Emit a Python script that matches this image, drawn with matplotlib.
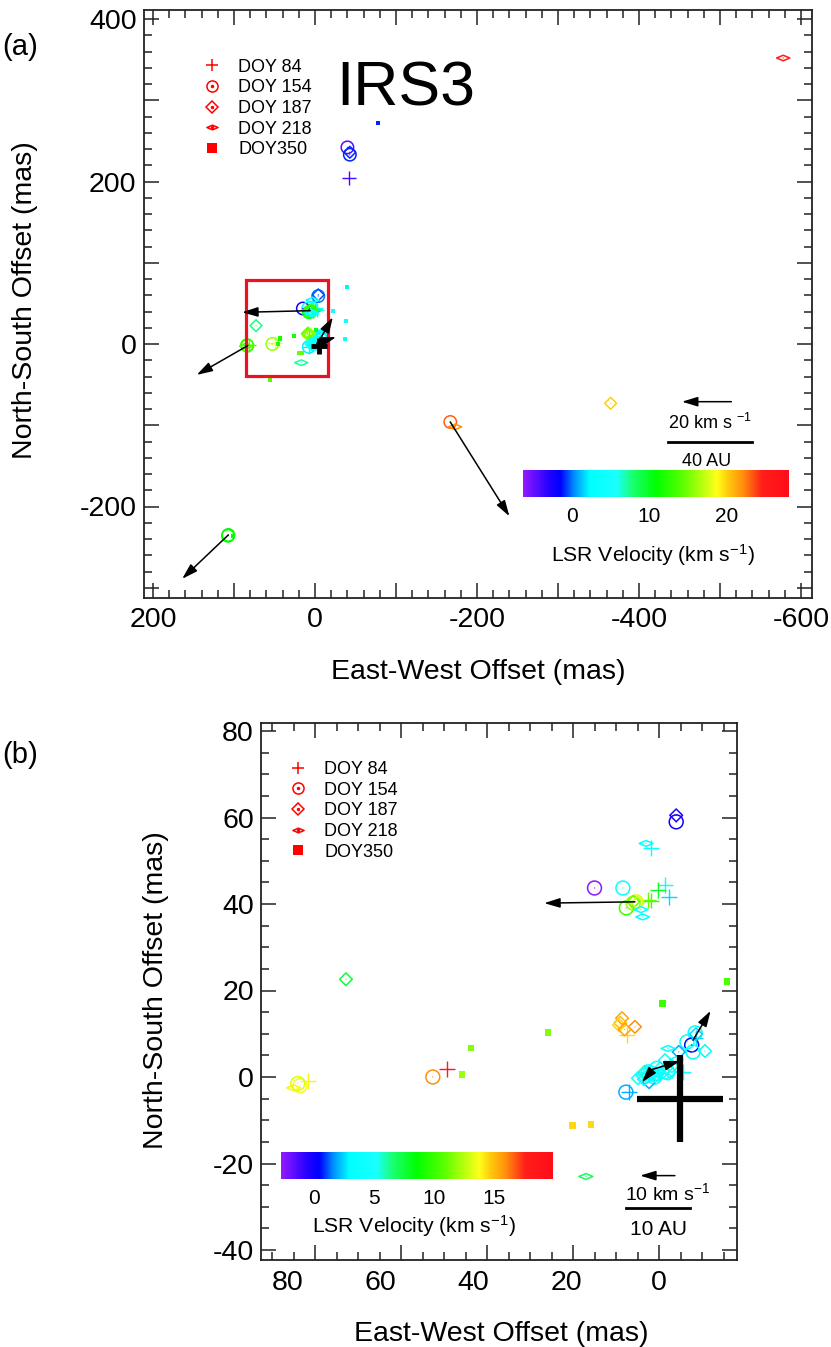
import numpy as np
import matplotlib
matplotlib.use("Agg")
import matplotlib.pyplot as plt
from matplotlib.colors import LinearSegmentedColormap, Normalize
from matplotlib.lines import Line2D
from matplotlib.path import Path
from matplotlib.patches import Rectangle
from matplotlib.legend_handler import HandlerTuple
from matplotlib.ticker import MultipleLocator, FixedLocator

plt.rcParams['font.family'] = ['Liberation Sans', 'DejaVu Sans']
plt.rcParams['mathtext.default'] = 'regular'
W, H = 831, 1347

# ---- data: East offset (mas), North offset (mas), LSR velocity (km/s) ----
doy84_e = [81.6, 49.3, 1.9, -1.4, -2.3, 0.2, 1.9, 2.5, 7.4, 7.0, -5.6, -42, -8.5, 3.0]
doy84_n = [-0.9, 1.8, 53, 44.4, 41.7, 43.2, 40.8, 41, 9.7, -3.5, 1.2, 204, 9, 1]
doy84_v = [14, 18.5, 3.5, 3.5, 2.5, 8, 10, 11, 14.5, 2, 4, -4, 2.5, 5]

doy154_e = [83.5, 52.6, 15, 8.4, 7.6, 6, 5.3, -4, -8.4, -7.6, -7.9, -6.5, 7.7, 2.5, 0.5,
            -40, -43, -167, 107, 84, 107.5, -2, 1]
doy154_n = [-2, 0, 43.7, 43.7, 39.1, 40.2, 40.5, 59, 10.2, 7.4, 5.8, 8.1, -3.5, 1.2, 2,
            242, 233, -96, -235, -1.5, -236, 1, 0]
doy154_v = [13.5, 16, -2.5, 3.5, 10, 12, 13, 0, 3, 0.5, 3.5, 3.5, 2, 5, 4,
            -4.5, -1, 23, 11, 13, 11, 4, 4]

doy187_e = [72.8, -4, 8.6, 9, 5.6, 9.3, -10.7, -4.6, 2.3, 4.9, -1.4, 0.5, -1, -2.5, 3.3, -8.6,
            6, -365, -43, 1.5, -0.3, -3, 2.8, 8, 5, 1, -1.8, 4, 3.5]
doy187_n = [22.6, 60.5, 13.6, 12.5, 11.6, 12, 6, 5.8, -1.2, -0.3, 3.9, 0.5, 1.2, 1.2, 1.2, 9.9,
            40.5, -73, 236, 0.5, 2, 2.5, 0, 11, 40.3, 0.2, 2.2, 0.5, -0.5]
doy187_v = [7.5, -0.5, 15.5, 15, 16, 14.5, 3, 2, 2, 4, 4, 4, 4.5, 4, 6, 2.5,
            11, 20, -1, 4.5, 4, 3.5, 5, 15.5, 13, 4, 3.8, 4.5, 3.5]

doy218_e = [17, 3, 3.8, 4.2, -2.1, 2, 0, -1.5, -578, -173, 85, 3.5, -4, 1]
doy218_n = [-23, 54, 37, 38.7, 6.6, 2, 1.2, 0.2, 352, -102, -2.5, 0.5, 4, -0.5]
doy218_v = [7, 3.5, 3.5, 3.5, 3.5, 4.5, 4, 4, 25, 22, 14, 5, 3.5, 4]

doy350_e = [-15.8, -0.9, 25.8, 43.7, 45.8, 20.2, 15.8, -78, -40, -22, -38, -37, 55.5, 101]
doy350_n = [22, 17, 10.2, 6.7, 0.5, -11.3, -10.9, 272, 70, 41, 28, 6, -44, -236]
doy350_v = [10.5, 10, 11.5, 11.5, 12, 14.5, 14.5, -1, 2, 4, 4, 3.5, 14, 11]

# proper motion arrows: tail East, tail North, head East, head North
arrows_a = [(-167, -96, -240, -212), (107, -235, 164, -289), (6, 41, 90, 39), (83, -2, 146, -38),
            (-4, 2, -22, 33), (-2, 1, -26, 8.5)]
arrows_b = [(83.7, -2, 99.5, -11.3), (5.6, 40.5, 26.7, 40.2), (-7.9, 8.5, -12, 15.3),
            (1.4, 1.8, -4.9, 3.7), (1.4, 1.8, 4, -1.2)]

cbar_ticks_a = [0, 10, 20]
cbar_ticks_b = [0, 5, 10, 15]
vrange_a = (-6.3, 27.9)
vrange_b = (-2.75, 19.9)
legend_labels = ['DOY 84', 'DOY 154', 'DOY 187', 'DOY 218', 'DOY350']

stops = [(0, (0.58, 0.1, 1)), (0.10, (0.12, 0, 1)), (0.14, (0, 0, 1)), (0.19, (0, 0.55, 1)),
         (0.25, (0, 1, 1)), (0.35, (0.1, 1, 1)), (0.41, (0.1, 1, 0.45)), (0.50, (0, 1, 0)),
         (0.60, (0.35, 1, 0)), (0.73, (1, 1, 0.1)), (0.77, (1, 0.8, 0.05)), (0.83, (1, 0.55, 0.05)),
         (0.90, (1, 0.12, 0.1)), (1, (1, 0.05, 0.1))]
cmap = LinearSegmentedColormap.from_list('vel', stops)

flat = Path([(-1, 0), (0, 0.42), (1, 0), (0, -0.42), (-1, 0)], closed=True)

fig = plt.figure(figsize=(W / 100, H / 100), dpi=100)


def axes_px(l, t, r, b):
    return fig.add_axes([l / W, 1 - b / H, (r - l) / W, (b - t) / H])


def style(ax, major, minor):
    ax.xaxis.set_major_locator(MultipleLocator(major))
    ax.xaxis.set_minor_locator(MultipleLocator(minor))
    ax.yaxis.set_major_locator(MultipleLocator(major))
    ax.yaxis.set_minor_locator(MultipleLocator(minor))
    ax.tick_params(which='both', top=True, right=True, direction='in', color='#222222')
    ax.tick_params(which='major', length=11, width=1.1)
    ax.tick_params(which='minor', length=6, width=1.1)
    for s in ax.spines.values():
        s.set_linewidth(1.3)
        s.set_color('#222222')


def draw_epochs(ax, norm, s_plus, s_circ, s_diam, s_flat, s_sq):
    kw = dict(cmap=cmap, norm=norm)
    ax.scatter(doy84_e, doy84_n, c=doy84_v, marker='+', s=s_plus, linewidths=1.0, **kw)
    for e, n, v, m, s in [(doy154_e, doy154_n, doy154_v, 'o', s_circ),
                          (doy187_e, doy187_n, doy187_v, 'D', s_diam),
                          (doy218_e, doy218_n, doy218_v, flat, s_flat)]:
        ax.scatter(e, n, facecolors='none', edgecolors=cmap(norm(np.array(v))), marker=m, s=s, linewidths=1.1)
        ax.scatter(e, n, c=v, marker='o', s=0.8, linewidths=0, **kw)
    ax.scatter(doy350_e, doy350_n, c=doy350_v, marker='s', s=s_sq, linewidths=0, **kw)


def draw_arrows(ax, arrows):
    for e0, n0, e1, n1 in arrows:
        draw_arrow(ax, e0, n0, e1, n1)


def draw_arrow(ax, e0, n0, e1, n1):
    ax.annotate('', xy=(e1, n1), xytext=(e0, n0), zorder=6,
                arrowprops=dict(arrowstyle='-|>,head_length=0.95,head_width=0.29',
                                color='black', lw=1.1, shrinkA=0, shrinkB=0))


def legend(ax, pos):
    red = 'red'
    dot = Line2D([], [], ls='', marker='o', ms=1.5, color=red)
    mk = lambda m, ms, mew=1.1, fc='none': Line2D([], [], ls='', marker=m, ms=ms, mew=mew, mec=red, mfc=fc)
    handles = [mk('+', 8.5), (mk('o', 8), dot), (mk('D', 6), dot), (mk(flat, 8), dot), mk('s', 7.5, 0, red)]
    ax.legend(handles, legend_labels, handler_map={tuple: HandlerTuple(ndivide=1, pad=0)},
              loc='upper left', bbox_to_anchor=pos, frameon=False, fontsize=13,
              labelspacing=0.2, handlelength=1.0, handletextpad=0.95, borderpad=0, borderaxespad=0)


def colorbar(l, t, r, b, vr, ticks, label_y):
    cax = axes_px(l, t, r, b)
    cax.imshow(np.linspace(0, 1, 256)[None, :], aspect='auto', cmap=cmap, extent=(vr[0], vr[1], 0, 1))
    cax.set_yticks([])
    cax.set_xticks(ticks)
    cax.tick_params(axis='x', length=0, labelsize=15, pad=7)
    for s in cax.spines.values():
        s.set_visible(False)
    cax.set_xlabel('LSR Velocity (km s$^{-1}$)', fontsize=15.2)
    cax.xaxis.set_label_coords(0.49, (b - label_y) / (b - t), transform=cax.transAxes)
    cax.xaxis.label.set_va('center')
    return cax


def label_axes(ax, l, t, r, b, xlab_y, ylab_x, ylab_y):
    ax.set_xlabel('East-West Offset (mas)', fontsize=20.5, va='center')
    ax.set_ylabel('North-South Offset (mas)', fontsize=20.5, va='center')
    ax.xaxis.set_label_coords((xlab_cx[ax] - l) / (r - l), (b - xlab_y) / (b - t))
    ax.yaxis.set_label_coords((ylab_x - l) / (r - l), (b - ylab_y) / (b - t))


# ---------------- panel (a) ----------------
axa = axes_px(143.5, 10, 811.5, 597.5)
axa.set_xlim((315 - 143.5) / 0.81, (315 - 811.5) / 0.81)
axa.set_ylim((344 - 597.5) / 0.8125, (344 - 10) / 0.8125)
style(axa, 100, 20)
axa.set_xticklabels([])
axa.tick_params(labelsize=20.5, pad=5)
sec = axa.secondary_xaxis('bottom')
sec.set_xticks([200, 0, -200, -400, -600], labels=['200', '0', '-200', '-400', '-600'])
sec.tick_params(length=0, labelsize=20.5, pad=7)
sec.spines['bottom'].set_visible(False)
axa.yaxis.set_major_formatter(lambda v, p: f'{v:.0f}' if round(v) % 200 == 0 else '')
xlab_cx = {axa: 478}
label_axes(axa, 143.5, 10, 811.5, 597.5, 672, 25, 300)
axa.add_patch(Rectangle((85, -39), -101, 118, fill=False, ec='#ee1122', lw=2.3, zorder=4))
norm_a = Normalize(*vrange_a)
draw_epochs(axa, norm_a, 100, 80, 36, 90, 9)
axa.errorbar([-5], [-2], xerr=[10], yerr=[10], color='black', elinewidth=3.5, capsize=0, zorder=5)
draw_arrows(axa, arrows_a)
legend(axa, (0.089, 0.917))
axa.text(0.289, 0.866, 'IRS3', transform=axa.transAxes, fontsize=45, ha='left', va='center')
draw_arrow(axa, -514, -71, -453, -71)
axa.text(-488, -97, '20 km s $^{-1}$', fontsize=13, ha='center', va='center')
axa.plot([-436, -540], [-120, -120], color='black', lw=2)
axa.text(-483, -145, '40 AU', fontsize=13, ha='center', va='center')
colorbar(523, 470, 788, 497, vrange_a, cbar_ticks_a, 555)

# ---------------- panel (b) ----------------
axb = axes_px(260.7, 723, 737, 1260)
axb.set_xlim((659 - 260.7) / 4.3, (659 - 737) / 4.3)
axb.set_ylim((1077 - 1260) / 4.325, (1077 - 723) / 4.325)
style(axb, 20, 5)
axb.tick_params(labelsize=20.5, pad=5)
axb.set_xticklabels([])
axb.yaxis.set_major_formatter(lambda v, p: f'{v:.0f}')
# the printed x labels are spaced slightly wider than the tick marks
secb = axb.secondary_xaxis('bottom', functions=(lambda x: x / 1.0786, lambda x: x * 1.0786))
secb.set_xticks([80, 60, 40, 20, 0])
secb.tick_params(length=0, labelsize=20.5, pad=7)
secb.xaxis.set_minor_locator(FixedLocator([]))
secb.spines['bottom'].set_visible(False)
xlab_cx[axb] = 501
label_axes(axb, 260.7, 723, 737, 1260, 1334, 156, 990)
norm_b = Normalize(*vrange_b)
draw_epochs(axb, norm_b, 130, 100, 42, 100, 24)
axb.errorbar([-4.9], [-5], xerr=[10], yerr=[10], color='black', elinewidth=4.5, capsize=0, zorder=5)
draw_arrows(axb, arrows_b)
legend(axb, (0.06, 0.929))
draw_arrow(axb, -3.7, -22.8, 4.4, -22.8)
axb.text(-2, -26.8, '10 km s$^{-1}$', fontsize=14, ha='center', va='center')
axb.plot([7.7, -7.2], [-30.2, -30.2], color='black', lw=2)
axb.text(0.2, -35.2, '10 AU', fontsize=15, ha='center', va='center')
colorbar(281, 1152, 553, 1179, vrange_b, cbar_ticks_b, 1226)

fig.text(2 / W, 1 - 47 / H, '(a)', fontsize=21, va='center')
fig.text(2 / W, 1 - 755 / H, '(b)', fontsize=21, va='center')

fig.savefig('out.png', dpi=100)
